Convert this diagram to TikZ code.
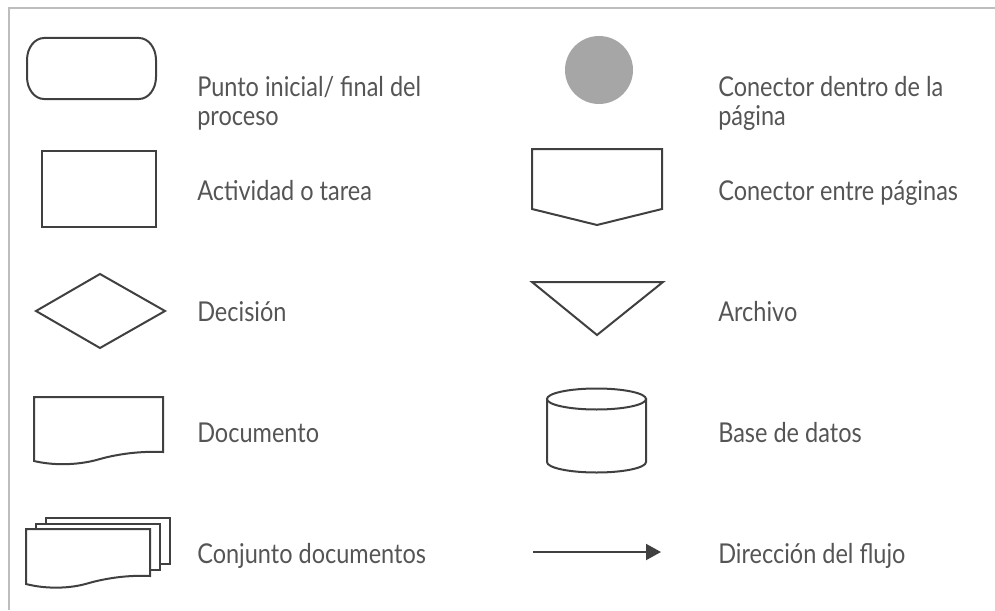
\documentclass[tikz,border=0pt]{standalone}
\usepackage{fontspec}
\setmainfont{Lato}[FakeStretch=0.86]
\usetikzlibrary{arrows.meta}
\definecolor{shapeline}{HTML}{404040}
\definecolor{frameline}{HTML}{BDBDBD}
\definecolor{labeltext}{HTML}{555555}
\definecolor{dotfill}{HTML}{A6A6A6}
\begin{document}
\begin{tikzpicture}[x=0.75pt,y=-0.75pt,
  symb/.style={draw=shapeline,line width=1.5pt,fill=white,line join=miter},
  lbl/.style={anchor=base west,inner sep=0pt,text=labeltext,font=\fontsize{20.5pt}{22pt}\selectfont}]
\useasboundingbox (0,0) rectangle (995,610);
% frame
\draw[frameline,line width=1.5pt] (8.5,610) -- (8.5,8.5) -- (995,8.5);
% left column symbols
\draw[symb] (44,38) -- (139,38)
  arc[start angle=-90,end angle=0,x radius=17,y radius=22] -- (156,77)
  arc[start angle=0,end angle=90,x radius=17,y radius=22] -- (44,99)
  arc[start angle=90,end angle=180,x radius=17,y radius=22] -- (27,60)
  arc[start angle=180,end angle=270,x radius=17,y radius=22] -- cycle;
\draw[symb] (42,151) rectangle (156,227);
\draw[symb] (36,311) -- (100,274) -- (165,311) -- (100,348) -- cycle;
\draw[symb] (34,461) -- (34,397) -- (163,397) -- (163,452)
  .. controls (140,451) and (118,454) .. (100,459)
  .. controls (80,465) and (55,466) .. (34,461) -- cycle;
\draw[symb] (46,518) rectangle (170,564);
\draw[symb] (36,524) rectangle (160,570);
\draw[symb] (26,584) -- (26,529) -- (150,529) -- (150,576)
  .. controls (128,575) and (107,578) .. (89,583)
  .. controls (70,589) and (45,589) .. (26,584) -- cycle;
% right column symbols
\fill[dotfill] (599,70) circle[radius=34];
\draw[symb] (532,149) -- (662,149) -- (662,209) -- (597,225) -- (532,209) -- cycle;
\draw[symb] (532,282) -- (663,282) -- (597,335) -- cycle;
\draw[symb] (547,399) -- (547,462) arc[start angle=180,end angle=0,x radius=49.5,y radius=10.5]
  -- (646,399) -- cycle;
\draw[symb] (596.5,399) ellipse[x radius=49.5,y radius=10.5];
\coordinate (af) at (533,552);
\coordinate (at) at (661,552);
\draw[shapeline,line width=1.5pt,-{Triangle[length=11.25pt,width=12pt]}] (af) -- (at);
% labels
\node[lbl] (l1a) at (197,97) {Punto inicial/ final del};
\node[lbl] (l1b) at (197,125) {proceso};
\node[lbl] (l2) at (197,200) {Actividad o tarea};
\node[lbl] (l3) at (197,321) {Decisión};
\node[lbl] (l4) at (197,442) {Documento};
\node[lbl] (l5) at (197,563) {Conjunto documentos};
\node[lbl] (r1a) at (718,97) {Conector dentro de la};
\node[lbl] (r1b) at (718,125) {página};
\node[lbl] (r2) at (718,200) {Conector entre páginas};
\node[lbl] (r3) at (718,321) {Archivo};
\node[lbl] (r4) at (718,442) {Base de datos};
\node[lbl] (r5) at (718,563) {Dirección del flujo};
\end{tikzpicture}
\end{document}
